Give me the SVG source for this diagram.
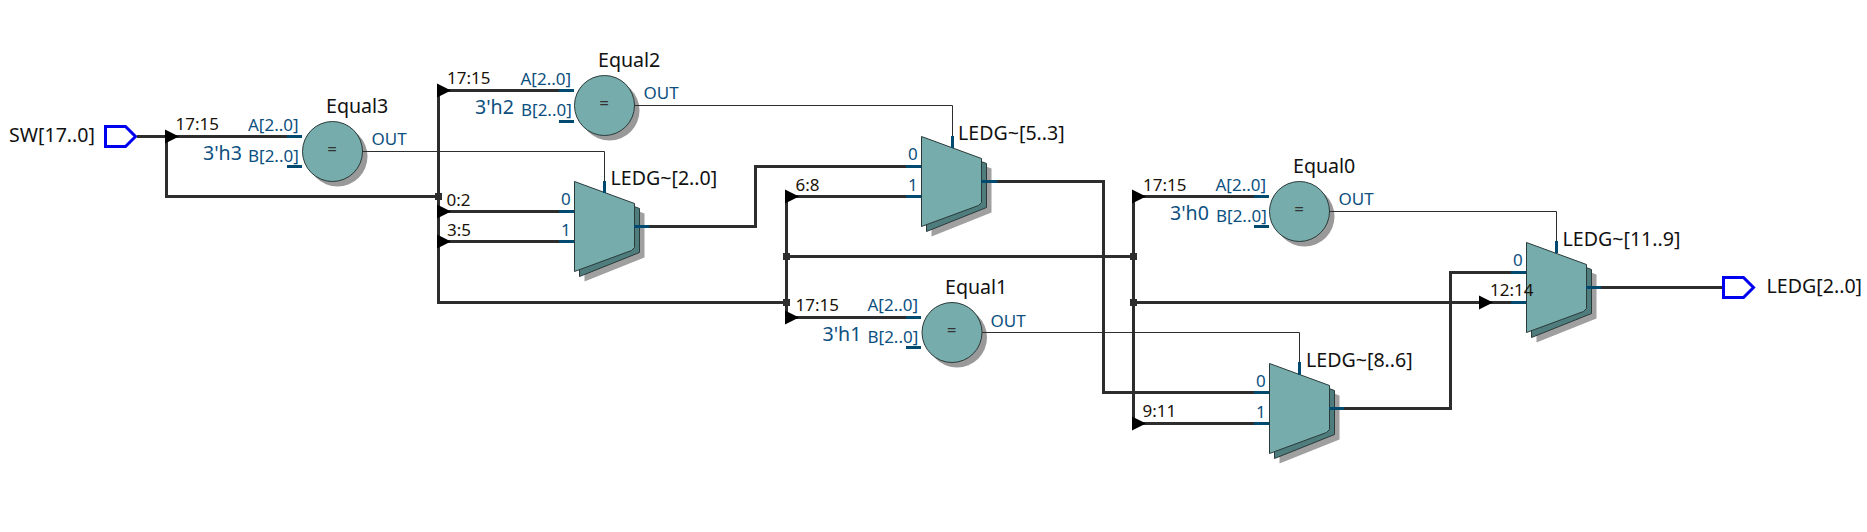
<svg xmlns="http://www.w3.org/2000/svg" width="1867" height="532" viewBox="0 0 1867 532">
<style>
text{font-family:"Noto Sans","Open Sans","Liberation Sans",sans-serif}
.bus{fill:none;stroke:#2d2d2d;stroke-width:3}
.wire{fill:none;stroke:#2d2d2d;stroke-width:1}
.stub{fill:none;stroke:#004a70;stroke-width:3}
.name{font-size:19.6px;fill:#111}
.net{font-size:17px;fill:#1a1208}
.pin{font-size:17px;fill:#0d5080}
.const{font-size:19.6px;fill:#0d5080}
.eq{font-size:17px;fill:#333;text-anchor:middle}
.port{fill:#fff;stroke:#0000f0;stroke-width:3}
</style>
<defs>
<polygon id="arrow" points="-1.5,-7 12.5,0 -1.5,7" fill="#000"/>
<rect id="dot" x="-3.5" y="-3.5" width="7" height="7" fill="#2d2d2d"/>
<g id="equal">
<circle cx="5" cy="5" r="30" fill="#999"/>
<circle r="30" fill="#76acac" stroke="#2a3a3a" stroke-width="1"/>
</g>
<g id="mux">
<polygon points="10,10 70,32 70,76 10,100" fill="#a0a0a0"/>
<polygon points="5,5 65,27 65,71 5,95" fill="#4f7d7d" stroke="#2a3a3a" stroke-width="1"/>
<polygon points="0,0 60,22 60,66 57,69 0,90" fill="#76acac" stroke="#2a3a3a" stroke-width="1"/>
</g>
</defs>
<g id="SW">
<polygon class="port" points="105.5,126.5 125.5,126.5 135.5,136.5 125.5,146.5 105.5,146.5"/>
<text class="name" x="9" y="141.5">SW[17..0]</text>
</g>
<g id="Equal3">
<use href="#equal" x="332.5" y="151.5"/>
<text class="eq" x="332" y="155">=</text>
<text class="name" x="326" y="113">Equal3</text>
<text class="pin" x="248" y="130.5">A[2..0]</text>
<text class="pin" x="248" y="161.5">B[2..0]</text>
<text class="const" x="203" y="160">3'h3</text>
<text class="pin" x="371.5" y="145">OUT</text>
</g>
<g id="Equal2">
<use href="#equal" x="604.5" y="105.5"/>
<text class="eq" x="604" y="109">=</text>
<text class="name" x="598" y="67">Equal2</text>
<text class="pin" x="520.5" y="84.5">A[2..0]</text>
<text class="pin" x="521" y="115.5">B[2..0]</text>
<text class="const" x="475" y="113.5">3'h2</text>
<text class="pin" x="643.5" y="99">OUT</text>
</g>
<g id="Equal1">
<use href="#equal" x="952" y="332.5"/>
<text class="eq" x="951.5" y="336">=</text>
<text class="name" x="945" y="294">Equal1</text>
<text class="pin" x="867.5" y="311">A[2..0]</text>
<text class="pin" x="867.5" y="342.5">B[2..0]</text>
<text class="const" x="822.5" y="340.5">3'h1</text>
<text class="pin" x="990.5" y="326.5">OUT</text>
</g>
<g id="Equal0">
<use href="#equal" x="1299.5" y="211.5"/>
<text class="eq" x="1299" y="215">=</text>
<text class="name" x="1293" y="173">Equal0</text>
<text class="pin" x="1215.5" y="190.5">A[2..0]</text>
<text class="pin" x="1216" y="221.5">B[2..0]</text>
<text class="const" x="1170" y="219.5">3'h0</text>
<text class="pin" x="1338.5" y="205">OUT</text>
</g>
<g id="LEDG_2_0">
<use href="#mux" x="574.5" y="181.5"/>
<text class="pin" x="561" y="205">0</text>
<text class="pin" x="561" y="235.5">1</text>
<text class="name" x="610.5" y="184.5">LEDG~[2..0]</text>
</g>
<g id="LEDG_5_3">
<use href="#mux" x="921.5" y="136.5"/>
<text class="pin" x="908" y="160">0</text>
<text class="pin" x="908" y="190.5">1</text>
<text class="name" x="958" y="140">LEDG~[5..3]</text>
</g>
<g id="LEDG_8_6">
<use href="#mux" x="1269.5" y="363.5"/>
<text class="pin" x="1256" y="386.5">0</text>
<text class="pin" x="1256" y="417.5">1</text>
<text class="name" x="1306" y="366.5">LEDG~[8..6]</text>
</g>
<g id="LEDG_11_9">
<use href="#mux" x="1526.5" y="242.5"/>
<text class="pin" x="1513" y="266">0</text>
<text class="name" x="1562.5" y="245.5">LEDG~[11..9]</text>
</g>
<g id="LEDG">
<polygon class="port" points="1723.5,277.5 1743.5,277.5 1753.5,287.5 1743.5,297.5 1723.5,297.5"/>
<text class="name" x="1766.5" y="292.5">LEDG[2..0]</text>
</g>
<g id="connectors">
<path class="bus" d="M137 136.5H288M166.5 136.5V196.5H438.5"/>
<path class="bus" d="M438.5 90.5V302.5H786.5"/>
<path class="bus" d="M438.5 90.5H559M438.5 211.5H559M438.5 241.5H559"/>
<path class="bus" d="M649 226.5H755.5V166.5H906"/>
<path class="bus" d="M786.5 196.5V317.5M786.5 196.5H906M786.5 317.5H906M786.5 256.5H1133.5"/>
<path class="bus" d="M997 181.5H1103.5V392.5H1254"/>
<path class="bus" d="M1133.5 196.5V423.5M1133.5 196.5H1254M1133.5 423.5H1254M1133.5 302.5H1511"/>
<path class="bus" d="M1344 408.5H1450.5V272.5H1511"/>
<path class="bus" d="M1601 287.5H1722"/>
<path class="wire" d="M362 151.5H604.5V181"/>
<path class="wire" d="M634 105.5H952.5V136"/>
<path class="wire" d="M982 332.5H1299.5V362"/>
<path class="wire" d="M1329 211.5H1556.5V241"/>
<path class="stub" d="M287 136.5H302M287 166.5H302M559 90.5H574M559 121.5H574M604.5 181V193M559 211.5H574M559 241.5H574M634 226.5H649M906 166.5H921M906 196.5H921M952.5 136V148M981 181.5H997M906 317.5H921M906 347.5H921M1254 196.5H1269M1254 226.5H1269M1254 392.5H1269M1254 423.5H1269M1299.5 362V375M1329 408.5H1344M1511 272.5H1526M1511 302.5H1526M1556.5 241V253M1586 287.5H1601"/>
<use href="#arrow" x="166.5" y="136.5"/>
<use href="#arrow" x="438.5" y="90.5"/>
<use href="#arrow" x="438.5" y="211.5"/>
<use href="#arrow" x="438.5" y="241.5"/>
<use href="#arrow" x="786.5" y="196.5"/>
<use href="#arrow" x="786.5" y="317.5"/>
<use href="#arrow" x="1133.5" y="196.5"/>
<use href="#arrow" x="1133.5" y="423.5"/>
<use href="#arrow" x="1480.5" y="302.5"/>
<use href="#dot" x="438.5" y="196.5"/>
<use href="#dot" x="786.5" y="256.5"/>
<use href="#dot" x="786.5" y="302.5"/>
<use href="#dot" x="1133.5" y="256.5"/>
<use href="#dot" x="1133.5" y="302.5"/>
</g>
<g id="net-labels">
<text class="net" x="175.5" y="130">17:15</text>
<text class="net" x="447" y="84">17:15</text>
<text class="net" x="446.5" y="206">0:2</text>
<text class="net" x="447" y="236">3:5</text>
<text class="net" x="795.5" y="190.5">6:8</text>
<text class="net" x="795.5" y="310.5">17:15</text>
<text class="net" x="1143" y="190.5">17:15</text>
<text class="net" x="1142.5" y="416.5">9:11</text>
<text class="net" x="1490" y="296">12:14</text>
</g>
</svg>
